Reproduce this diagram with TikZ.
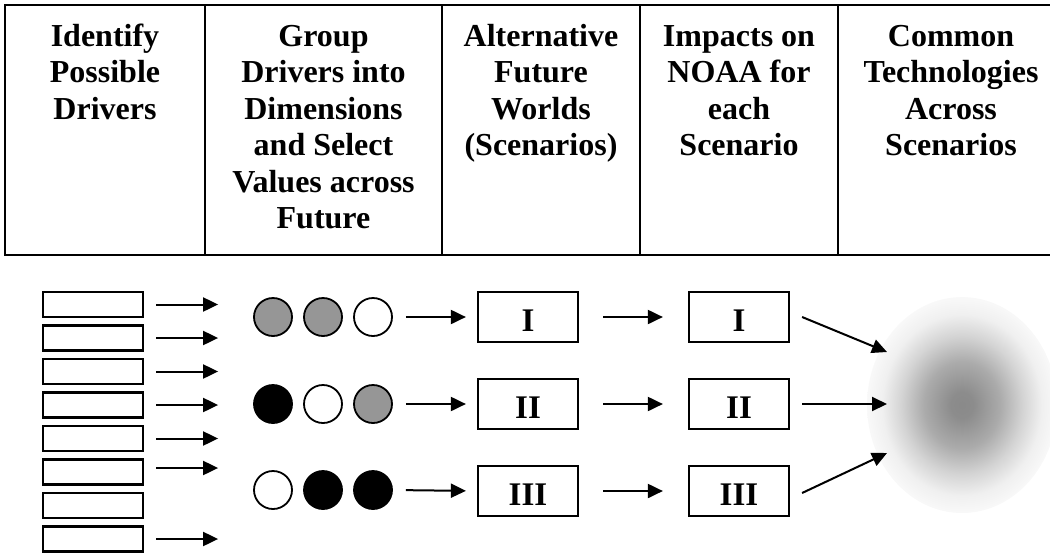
\documentclass[tikz,border=0pt]{standalone}
\usepackage{fontspec}
\setmainfont{Liberation Serif}
\usetikzlibrary{arrows.meta,shapes.geometric}
\pgfdeclareradialshading{blobshade}{\pgfpointorigin}{gray(0bp)=(0.54); gray(3bp)=(0.55); gray(10bp)=(0.67); gray(16bp)=(0.83); gray(21bp)=(0.94); gray(25bp)=(0.975); gray(50bp)=(0.975)}
\definecolor{dotgray}{RGB}{150,150,150}
\newcommand{\firstline}{\rule{0pt}{24pt}}
\begin{document}
\begin{tikzpicture}[x=1pt,y=-1pt,
  tbl/.style={line width=2.2pt},
  head/.style={anchor=north,inner sep=0pt,align=center,font=\fontsize{32}{36.5}\selectfont\bfseries},
  drv/.style={draw,line width=2.2pt,minimum width=100pt,minimum height=25pt,inner sep=0pt},
  dot/.style={circle,draw,line width=1.8pt,minimum size=38pt,inner sep=0pt},
  scen/.style={draw,line width=2.2pt,minimum width=100pt,minimum height=50pt,inner sep=0pt,font=\fontsize{33}{36}\selectfont\bfseries,text height=29pt,text depth=0pt},
  arr/.style={line width=2pt,-{Triangle[length=15pt,width=14pt]}},
]
\useasboundingbox (0,0) rectangle (1050,555);
% header table
\draw[tbl] (1053,5) -- (5,5) -- (5,255) -- (1053,255);
\foreach \x in {205,442,640,838} \draw[tbl] (\x,5) -- (\x,255);
\node[head] (h1) at (105,22) {\firstline Identify\\Possible\\Drivers};
\node[head] (h2) at (323.5,22) {\firstline Group\\Drivers into\\Dimensions\\and Select\\Values across\\Future};
\node[head] (h3) at (541,22) {\firstline Alternative\\Future\\Worlds\\(Scenarios)};
\node[head] (h4) at (739,22) {\firstline Impacts on\\NOAA for\\each\\Scenario};
\node[head] (h5) at (951,22) {\firstline Common\\Technologies\\Across\\Scenarios};
% drivers
\foreach \i/\y in {1/304.5,2/338,3/371.5,4/405,5/438.5,6/472,7/505.5,8/539}
  \node[drv] (d\i) at (93,\y) {};
\foreach \i in {1,2,3,4,5,8}
  \draw[arr] ([xshift=12pt]d\i.east) -- ++(62,0);
\draw[arr] ([xshift=12pt,yshift=4pt]d6.east) -- ++(62,0);
% dimension dots
\node[dot,fill=dotgray] (c11) at (273,317) {};
\node[dot,fill=dotgray] (c12) at (323,317) {};
\node[dot,fill=white]   (c13) at (373,317) {};
\node[dot,fill=black]   (c21) at (273,404) {};
\node[dot,fill=white]   (c22) at (323,404) {};
\node[dot,fill=dotgray] (c23) at (373,404) {};
\node[dot,fill=white]   (c31) at (273,490) {};
\node[dot,fill=black]   (c32) at (323,490) {};
\node[dot,fill=black]   (c33) at (373,490) {};
% scenarios
\node[scen] (s1) at (528,317) {I};
\node[scen] (s2) at (528,404) {II};
\node[scen] (s3) at (528,491) {III};
\node[scen] (t1) at (739,317) {I};
\node[scen] (t2) at (739,404) {II};
\node[scen] (t3) at (739,491) {III};
% blob
\node[ellipse,shade,shading=blobshade,minimum width=190pt,minimum height=216pt,inner sep=0pt] (blob) at (962,405) {};
\coordinate (b1) at (887,352);
\coordinate (b2) at (887,404);
\coordinate (b3) at (887,453);
% connectors
\foreach \r in {1,2,3} {
  \draw[arr,shorten <=13pt,shorten >=11pt] (c\r3.east) -- (s\r.west);
  \draw[arr,shorten <=24pt,shorten >=25pt] (s\r.east) -- (t\r.west);
}
\draw[arr] ([xshift=12pt]t1.east) -- (b1);
\draw[arr] ([xshift=12pt]t2.east) -- (b2);
\draw[arr] ([xshift=12pt,yshift=-2pt]t3.east) -- (b3);
\end{tikzpicture}
\end{document}
